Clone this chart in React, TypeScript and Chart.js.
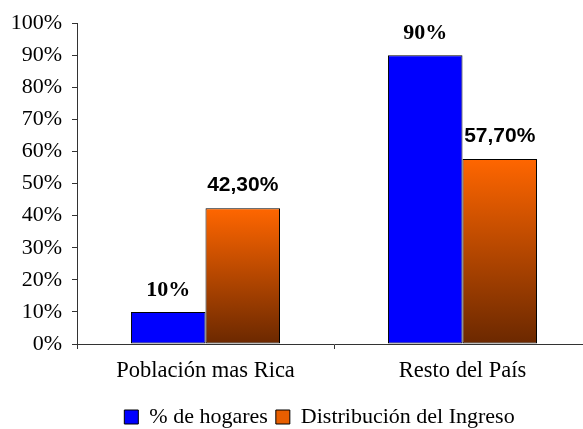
import React, { useEffect, useRef } from "react";
import { Chart, registerables } from "chart.js";

Chart.register(...registerables);

const categories = ["Población mas Rica", "Resto del País"];
const hogares = [10, 90];
const ingreso = [42.3, 57.7];
const hogaresLabels = ["10%", "90%"];
const ingresoLabels = ["42,30%", "57,70%"];
const seriesNames = ["% de hogares", "Distribución del Ingreso"];
const yTicksMax = 100;

const SERIF = "'Liberation Serif', 'Times New Roman', serif";
const SANS = "'Liberation Sans', Arial, sans-serif";

const valueLabelPlugin = {
  id: "valueLabels",
  afterLayout(chart: any) {
    if (chart.legend) chart.legend.left += 48;
  },
  afterDatasetsDraw(chart: any) {
    const ctx = chart.ctx;
    const y = chart.scales.y;
    const sets = [
      { labels: hogaresLabels, font: `bold 22px ${SERIF}`, gap: 16 },
      { labels: ingresoLabels, font: `bold 21px ${SANS}`, gap: 17 },
    ];
    sets.forEach((s, di) => {
      const meta = chart.getDatasetMeta(di);
      meta.data.forEach((el: any, i: number) => {
        const v = chart.data.datasets[di].data[i];
        const top = y.getPixelForValue(v);
        ctx.save();
        ctx.font = s.font;
        ctx.fillStyle = "#000";
        ctx.textAlign = "center";
        ctx.textBaseline = "alphabetic";
        ctx.fillText(s.labels[i], el.x, top - s.gap);
        ctx.restore();
      });
    });
  },
};

export default function App() {
  const ref = useRef<HTMLCanvasElement | null>(null);
  useEffect(() => {
    document.body.style.overflow = "hidden";
    const canvas = ref.current!;
    const chart = new Chart(canvas, {
      type: "bar",
      data: {
        labels: categories,
        datasets: [
          {
            label: seriesNames[0],
            data: hogares,
            backgroundColor: "#0000FF",
            borderColor: "#000",
            borderWidth: 1,
            borderSkipped: false,
          },
          {
            label: seriesNames[1],
            data: ingreso,
            backgroundColor: (c: any) => {
              const ch = c.chart;
              const y = ch.scales?.y;
              if (!y || c.type !== "data" || !ch.chartArea) return "#F06000";
              const top = y.getPixelForValue(c.raw);
              const bottom = y.getPixelForValue(0);
              if (!isFinite(top) || !isFinite(bottom)) return "#F06000";
              const g = ch.ctx.createLinearGradient(0, top, 0, bottom);
              g.addColorStop(0, "#FF6600");
              g.addColorStop(1, "#6B2800");
              return g;
            },
            borderColor: "#000",
            borderWidth: 1,
            borderSkipped: false,
          },
        ],
      },
      options: {
        animation: false,
        responsive: true,
        maintainAspectRatio: false,
        layout: { padding: { left: 0, right: 9, top: 23, bottom: -9 } },
        datasets: {
          bar: { barPercentage: 1, categoryPercentage: 0.58 },
        },
        scales: {
          x: {
            offset: true,
            grid: {
              offset: true,
              drawOnChartArea: false,
              drawTicks: true,
              tickLength: 5,
              color: "#333",
            },
            border: { display: true, color: "#333" },
            ticks: {
              color: "#000",
              font: { family: SERIF, size: 22.5 },
              padding: 9,
            },
            afterFit: (s: any) => {
              s.height = 54;
            },
          },
          y: {
            min: 0,
            max: yTicksMax,
            grid: {
              drawOnChartArea: false,
              drawTicks: true,
              tickLength: 5,
              color: "#333",
            },
            border: { display: true, color: "#333" },
            ticks: {
              stepSize: 10,
              color: "#000",
              font: { family: SERIF, size: 22 },
              padding: 10,
              callback: (v: any) => v + "%",
            },
            afterFit: (s: any) => {
              s.width = 77;
            },
          },
        },
        plugins: {
          tooltip: { enabled: false },
          legend: {
            position: "bottom",
            labels: {
              boxWidth: 14,
              boxHeight: 14,
              padding: 8,
              color: "#000",
              font: { family: SERIF, size: 22, lineHeight: 1 },
              generateLabels: (ch: any) => {
                const items = Chart.defaults.plugins.legend.labels.generateLabels(ch);
                items.forEach((it: any, i: number) => {
                  it.fillStyle = i === 0 ? "#0000FF" : "#E85E00";
                  it.strokeStyle = "#000";
                  it.lineWidth = 1;
                });
                return items;
              },
            },
          },
        },
      } as any,
      plugins: [valueLabelPlugin],
    });
    return () => chart.destroy();
  }, []);
  return (
    <div style={{ position: "fixed", left: 0, top: 0, width: 600, height: 429, background: "#fff" }}>
      <canvas ref={ref} />
    </div>
  );
}
